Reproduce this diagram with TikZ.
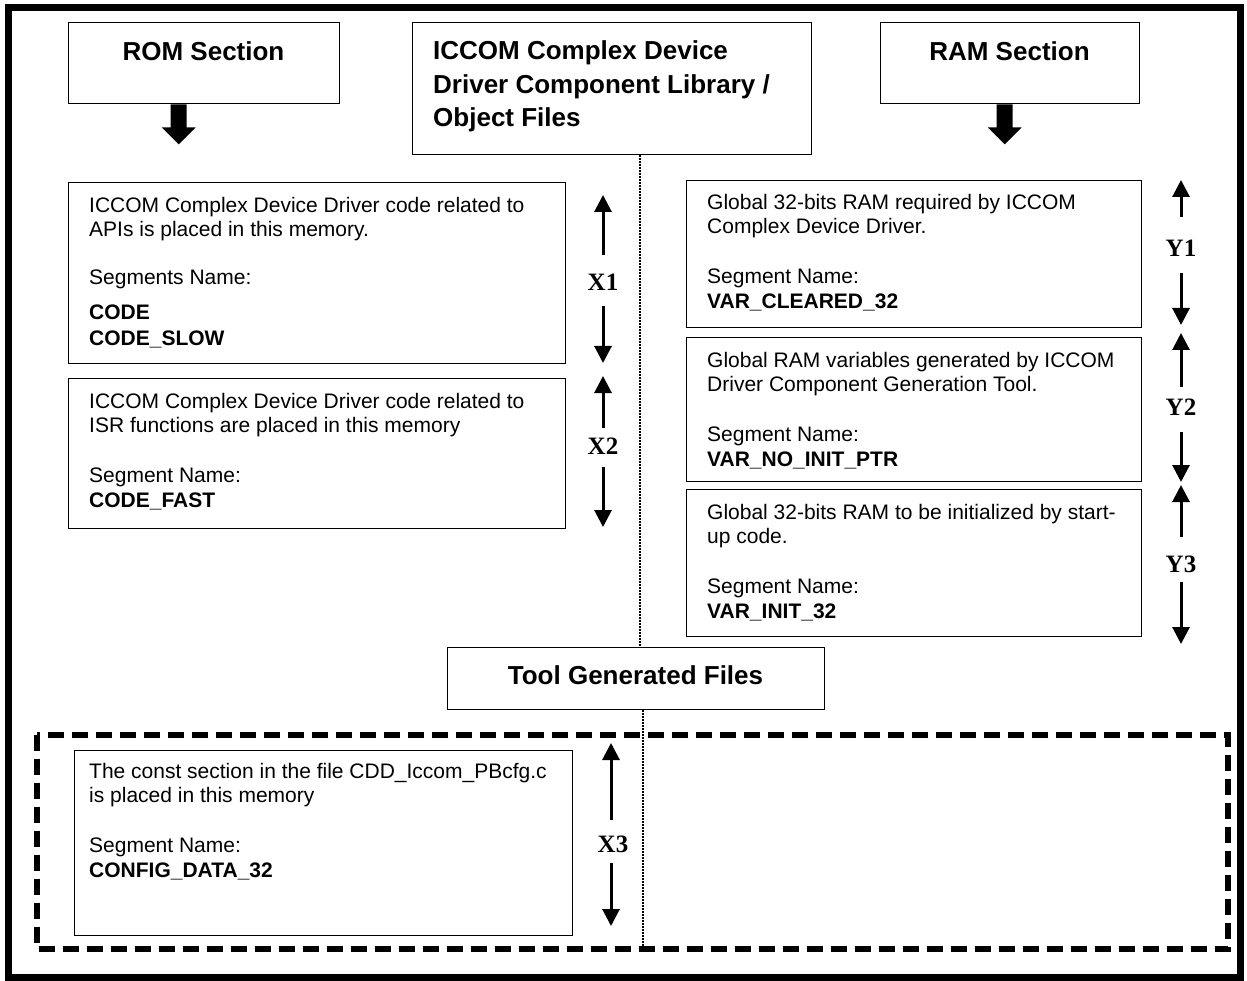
\documentclass[tikz,border=0pt]{standalone}
\usepackage{fontspec}
\setmainfont{Liberation Sans}
\newfontfamily\lblfont{Liberation Serif}
\usetikzlibrary{arrows.meta,calc}

\begin{document}
\begin{tikzpicture}[x=1pt,y=-1pt,
  box/.style={draw=black, line width=1.4pt, inner sep=0pt, anchor=north west},
  ln/.style={anchor=base west, inner sep=0pt, font=\fontsize{21}{24}\selectfont},
  lnb/.style={anchor=base west, inner sep=0pt, font=\fontsize{21}{24}\selectfont\bfseries},
  ttl/.style={inner sep=0pt, font=\fontsize{26}{30}\selectfont\bfseries},
  dimlbl/.style={inner sep=0pt, anchor=base, font=\fontsize{25}{28}\selectfont\lblfont\bfseries},
  arr/.style={line width=3pt, -{Triangle[width=17pt,length=17pt]}},
  dotline/.style={line width=2pt, dash pattern=on 1.5pt off 1.5pt},
  fatarrow/.style={fill=black},
]
\useasboundingbox (0,0) rectangle (1247,981);

% outer frame
\draw[line width=7pt] (8,8) rectangle (1240,977);

% header boxes
\node[box, minimum width=271pt, minimum height=81pt] (rom) at (68,22) {};
\node[ttl, anchor=base] (romt) at (203.5,61) {ROM Section};
\node[box, minimum width=399pt, minimum height=132pt] (lib) at (412,22) {};
\node[ttl, anchor=base west] (libt1) at (433,60) {ICCOM Complex Device};
\node[ttl, anchor=base west] (libt2) at (433,94) {Driver Component Library /};
\node[ttl, anchor=base west] (libt3) at (433,127) {Object Files};
\node[box, minimum width=259pt, minimum height=81pt] (ram) at (880,22) {};
\node[ttl, anchor=base] (ramt) at (1009.5,61) {RAM Section};

% fat arrows below the ROM and RAM headers
\coordinate (romfoot) at ($(rom.south)+(-25.5,0)$);
\coordinate (ramfoot) at ($(ram.south)+(-5.5,0)$);
\foreach \f in {romfoot,ramfoot}
  \fill[fatarrow] (\f) ++(-8,0) -- ++(0,23) -- ++(-9,0) -- ++(17,17) -- ++(17,-17) -- ++(-9,0) -- ++(0,-23) -- cycle;

% ROM segments
\node[box, minimum width=497pt, minimum height=181pt] (code) at (68,182) {};
\node[ln]  (code1) at (89,213) {ICCOM Complex Device Driver code related to};
\node[ln]  (code2) at (89,237) {APIs is placed in this memory.};
\node[ln]  (code3) at (89,285) {Segments Name:};
\node[lnb] (code4) at (89,320) {CODE};
\node[lnb] (code5) at (89,345) {CODE\_SLOW};

\node[box, minimum width=497pt, minimum height=150pt] (fast) at (68,378) {};
\node[ln]  (fast1) at (89,408) {ICCOM Complex Device Driver code related to};
\node[ln]  (fast2) at (89,432) {ISR functions are placed in this memory};
\node[ln]  (fast3) at (89,482) {Segment Name:};
\node[lnb] (fast4) at (89,507) {CODE\_FAST};

% RAM segments
\node[box, minimum width=455pt, minimum height=147pt] (clr) at (686,180) {};
\node[ln]  (clr1) at (707,210) {Global 32-bits RAM required by ICCOM};
\node[ln]  (clr2) at (707,234) {Complex Device Driver.};
\node[ln]  (clr3) at (707,284) {Segment Name:};
\node[lnb] (clr4) at (707,309) {VAR\_CLEARED\_32};

\node[box, minimum width=455pt, minimum height=144pt] (noinit) at (686,337) {};
\node[ln]  (noinit1) at (707,367) {Global RAM variables generated by ICCOM};
\node[ln]  (noinit2) at (707,391) {Driver Component Generation Tool.};
\node[ln]  (noinit3) at (707,441) {Segment Name:};
\node[lnb] (noinit4) at (707,466) {VAR\_NO\_INIT\_PTR};

\node[box, minimum width=455pt, minimum height=147pt] (init) at (686,489) {};
\node[ln]  (init1) at (707,519) {Global 32-bits RAM to be initialized by start-};
\node[ln]  (init2) at (707,543) {up code.};
\node[ln]  (init3) at (707,593) {Segment Name:};
\node[lnb] (init4) at (707,618) {VAR\_INIT\_32};

% tool generated part
\node[box, minimum width=377pt, minimum height=62pt] (tool) at (447,647) {};
\node[ttl, anchor=base] (toolt) at (635.5,684) {Tool Generated Files};

\draw[line width=6pt, dash pattern=on 16pt off 8pt] (37,734.5) rectangle (1228,949);

\node[box, minimum width=498pt, minimum height=185pt] (cfg) at (74,750) {};
\node[ln]  (cfg1) at (89,778) {The const section in the file CDD\_Iccom\_PBcfg.c};
\node[ln]  (cfg2) at (89,802) {is placed in this memory};
\node[ln]  (cfg3) at (89,852) {Segment Name:};
\node[lnb] (cfg4) at (89,877) {CONFIG\_DATA\_32};

% dotted separators between ROM and RAM columns
\coordinate (sepA) at (640,0);
\coordinate (sepB) at (643,0);
\coordinate (sepend) at (643,946);
\draw[dotline] (lib.south -| sepA) -- (tool.north -| sepA);
\draw[dotline] (tool.south -| sepB) -- (sepend);

% size markers
\node[dimlbl] (X1) at (603,291) {X1};
\coordinate (x1a) at (603,255); \coordinate (x1b) at (603,195);
\coordinate (x1c) at (603,306); \coordinate (x1d) at (603,363);
\draw[arr] (x1a) -- (x1b);
\draw[arr] (x1c) -- (x1d);

\node[dimlbl] (X2) at (603,454) {X2};
\coordinate (x2a) at (603,428); \coordinate (x2b) at (603,376);
\coordinate (x2c) at (603,467); \coordinate (x2d) at (603,527);
\draw[arr] (x2a) -- (x2b);
\draw[arr] (x2c) -- (x2d);

\node[dimlbl] (X3) at (613,852) {X3};
\coordinate (x3a) at (611,820); \coordinate (x3b) at (611,743);
\coordinate (x3c) at (611,863); \coordinate (x3d) at (611,926);
\draw[arr] (x3a) -- (x3b);
\draw[arr] (x3c) -- (x3d);

\node[dimlbl] (Y1) at (1181,257) {Y1};
\coordinate (y1a) at (1181,217); \coordinate (y1b) at (1181,180);
\coordinate (y1c) at (1181,273); \coordinate (y1d) at (1181,325);
\draw[arr] (y1a) -- (y1b);
\draw[arr] (y1c) -- (y1d);

\node[dimlbl] (Y2) at (1181,415) {Y2};
\coordinate (y2a) at (1181,387); \coordinate (y2b) at (1181,333);
\coordinate (y2c) at (1181,432); \coordinate (y2d) at (1181,482);
\draw[arr] (y2a) -- (y2b);
\draw[arr] (y2c) -- (y2d);

\node[dimlbl] (Y3) at (1181,572) {Y3};
\coordinate (y3a) at (1181,537); \coordinate (y3b) at (1181,485);
\coordinate (y3c) at (1181,582); \coordinate (y3d) at (1181,644);
\draw[arr] (y3a) -- (y3b);
\draw[arr] (y3c) -- (y3d);
\end{tikzpicture}
\end{document}
